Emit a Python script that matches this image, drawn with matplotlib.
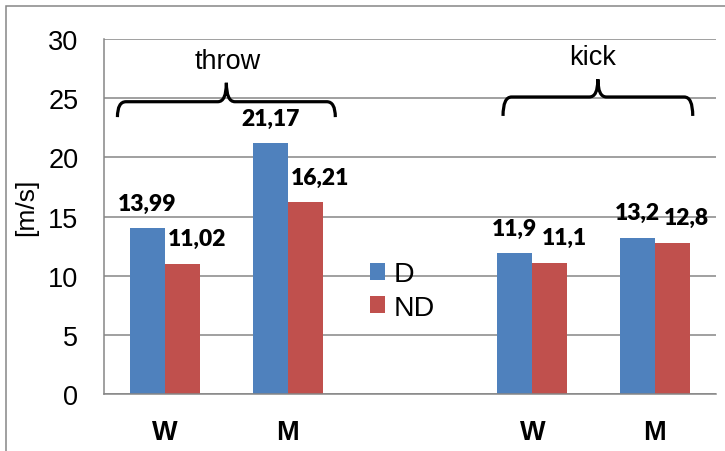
import numpy as np
import matplotlib
matplotlib.use("Agg")
import matplotlib.pyplot as plt
from matplotlib.path import Path
from matplotlib.patches import PathPatch, Rectangle

plt.rcParams['font.family'] = ['Liberation Sans', 'DejaVu Sans']

# categories: two groups (throw, kick), each with W and M
tick_labels = ["W", "M", "W", "M"]
positions = [0, 1, 3, 4]          # slot 2 left empty for the legend
d_values = [13.99, 21.17, 11.9, 13.2]
nd_values = [11.02, 16.21, 11.1, 12.8]
group_names = ["throw", "kick"]

blue = '#4F81BD'
red = '#C0504D'
grey = '#868686'


def fmt(v):
    return f"{v:g}".replace(".", ",")


def brace(ax, x0, x1, y_line, y_end, y_tip, rx=0.07):
    xm = (x0 + x1) / 2
    verts = [(x0, y_end), (x0, y_line), (x0 + rx, y_line),
             (xm - rx, y_line), (xm, y_line), (xm, y_tip),
             (xm, y_line), (xm + rx, y_line),
             (x1 - rx, y_line), (x1, y_line), (x1, y_end)]
    codes = [Path.MOVETO, Path.CURVE3, Path.CURVE3,
             Path.LINETO, Path.CURVE3, Path.CURVE3,
             Path.CURVE3, Path.CURVE3,
             Path.LINETO, Path.CURVE3, Path.CURVE3]
    ax.add_patch(PathPatch(Path(verts, codes), fill=False, lw=2.3,
                           color='black', capstyle='butt', clip_on=False))


fig = plt.figure(figsize=(7.25, 4.52), dpi=100)
ax = fig.add_axes([0.1434, 0.1261, 0.8442, 0.7854])

w = 0.286
x = np.array(positions)
bars_d = ax.bar(x - w / 2, d_values, w, color=blue, label='D', zorder=2)
bars_nd = ax.bar(x + w / 2, nd_values, w, color=red, label='ND', zorder=2)

for b, v in zip(bars_d, d_values):
    ax.annotate(fmt(v), (b.get_x() + b.get_width() / 2, v), xytext=(0, 18),
                textcoords='offset points', ha='center', va='center',
                fontsize=16.5, fontweight='heavy', family='Lato')
for b, v in zip(bars_nd, nd_values):
    ax.annotate(fmt(v), (b.get_x() + b.get_width() / 2, v), xytext=(10.5, 18),
                textcoords='offset points', ha='center', va='center',
                fontsize=16.5, fontweight='heavy', family='Lato')

ax.set_xlim(-0.5, 4.5)
ax.set_ylim(0, 30)
ax.set_yticks(range(0, 31, 5))
ax.set_xticks(positions)
ax.set_xticklabels(tick_labels, fontsize=19.5, fontweight='bold')
ax.tick_params(axis='y', length=0, pad=18.5, labelsize=19.5)
ax.tick_params(axis='x', length=0, pad=18)
ax.yaxis.grid(True, color=grey, lw=1.1)
ax.set_axisbelow(True)
for s in ['top', 'right']:
    ax.spines[s].set_visible(False)
for s in ['left', 'bottom']:
    ax.spines[s].set_color(grey)
    ax.spines[s].set_linewidth(1.1)

ax.set_ylabel('[m/s]', fontsize=19, va='center')
ax.yaxis.set_label_coords(-0.127, 0.53)

# group braces
brace(ax, -0.39, 1.39, 24.7, 23.4, 26.3)
brace(ax, 2.76, 4.31, 25.1, 23.5, 26.6)
ax.text(0.51, 28.1, group_names[0], ha='center', va='center', fontsize=19.5)
ax.text(3.49, 28.5, group_names[1], ha='center', va='center', fontsize=19.5)

ax.legend(loc='center left', bbox_to_anchor=(0.435, 0.29), frameon=False,
          fontsize=20.5, handlelength=0.52, handleheight=0.52,
          handletextpad=0.3, labelspacing=0.25, borderpad=0, borderaxespad=0)

# outer chart border
fig.add_artist(Rectangle((6 / 725, -0.1), 1.2, 1.1 - 7 / 452,
                         transform=fig.transFigure, fill=False,
                         edgecolor=grey, lw=1.1))

fig.savefig('out.png', dpi=100)
